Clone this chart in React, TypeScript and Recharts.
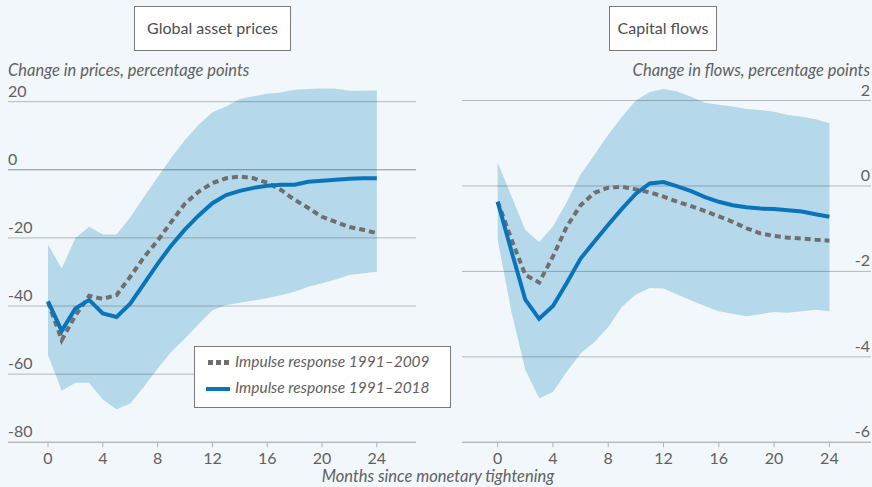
import React from 'react';
import { ComposedChart, Area, Line, XAxis, YAxis, ReferenceLine } from 'recharts';

// months since tightening
const months = [0, 1, 2, 3, 4, 5, 6, 7, 8, 9, 10, 11, 12, 13, 14, 15, 16, 17, 18, 19, 20, 21, 22, 23, 24];
const xTicks = [0, 4, 8, 12, 16, 20, 24];

// global asset prices, pp
const pricesLong = [-38.6, -47.3, -40.7, -38.2, -42.2, -43.2, -39.3, -33.5, -27.6, -22.2, -17.5, -13.4, -9.8, -7.4, -6.2, -5.3, -4.7, -4.4, -4.4, -3.5, -3.2, -2.9, -2.6, -2.5, -2.5];
const pricesShort = [-38.8, -50, -42.8, -37, -37.9, -36.8, -31.4, -25.7, -20.8, -15.3, -9.9, -6.4, -3.9, -2.5, -2, -2.5, -3.8, -5.9, -8.8, -11.2, -13.8, -15.3, -16.8, -17.6, -18.6];
const pricesHigh = [-22, -29, -20, -16.7, -19, -19, -14, -8, -2.2, 3.5, 8.8, 13.2, 16.9, 18.6, 20.8, 21.6, 22.3, 22.7, 23.5, 23.7, 23.9, 23.8, 23.2, 23.2, 23.3];
const pricesLow = [-54.4, -64.9, -62.5, -62.5, -67.4, -70.3, -68.6, -63.7, -58.3, -53.4, -49.5, -45.3, -41.2, -39.7, -39, -38.4, -37.7, -36.8, -35.8, -34.3, -33.3, -32.2, -30.9, -30.4, -29.9];
const priceTicks = [-80, -60, -40, -20, 0, 20];

// capital flows, pp
const flowsLong = [-0.37, -1.53, -2.66, -3.11, -2.81, -2.27, -1.7, -1.3, -0.91, -0.53, -0.18, 0.06, 0.09, -0.01, -0.12, -0.26, -0.37, -0.45, -0.5, -0.53, -0.54, -0.57, -0.6, -0.66, -0.72];
const flowsShort = [-0.37, -1.25, -2.08, -2.26, -1.65, -0.95, -0.45, -0.16, -0.04, -0.02, -0.08, -0.15, -0.25, -0.37, -0.47, -0.59, -0.71, -0.84, -0.99, -1.11, -1.17, -1.21, -1.23, -1.26, -1.28];
const flowsHigh = [0.55, -0.24, -1.03, -1.31, -0.95, -0.38, 0.27, 0.73, 1.2, 1.62, 2.0, 2.2, 2.27, 2.21, 2.09, 1.95, 1.9, 1.86, 1.8, 1.78, 1.74, 1.66, 1.62, 1.56, 1.47];
const flowsLow = [-1.26, -2.95, -4.3, -4.97, -4.82, -4.35, -3.92, -3.65, -3.3, -2.83, -2.54, -2.39, -2.4, -2.54, -2.68, -2.81, -2.93, -2.99, -3.05, -3.0, -2.95, -2.97, -2.93, -2.9, -2.93];
const flowTicks = [-6, -4, -2, 0, 2];

const FONT = 'Lato, "Open Sans", sans-serif';
const BG = '#f2f7fb';
const BAND = '#78b9dc';
const BLUE = '#0a74bb';
const GREY = '#6f6f6f';
const TEXT = '#616161';

const rows = (long: number[], short: number[], low: number[], high: number[]) =>
  months.map((m, i) => ({ month: m, long: long[i], short: short[i], band: [low[i], high[i]] }));

const XTick = ({ x, payload }: any) => (
  <text x={x} y={464} textAnchor="middle" fill={TEXT} fontSize={16} fontFamily={FONT}>{payload.value}</text>
);

// y tick label sitting just above its gridline
const GridLabel = ({ viewBox, side, text }: any) => {
  if (!viewBox) return null;
  const x = side === 'left' ? viewBox.x : viewBox.x + viewBox.width - 1;
  return (
    <text x={x} y={viewBox.y - 5} textAnchor={side === 'left' ? 'start' : 'end'} fill={TEXT} fontSize={16} fontFamily={FONT}>{text}</text>
  );
};

function Panel({ data, margin, xDomain, yDomain, yTicks, side, darkZero }: any) {
  return (
    <ComposedChart width={436} height={487} data={data} margin={margin}>
      <XAxis
        type="number"
        dataKey="month"
        domain={xDomain}
        ticks={xTicks}
        allowDataOverflow
        height={30}
        tickSize={5}
        tickLine={{ stroke: '#b3b3b3' }}
        axisLine={{ stroke: '#b3b3b3' }}
        tick={<XTick />}
      />
      <YAxis type="number" hide domain={yDomain} allowDataOverflow />
      <Area type="linear" dataKey="band" fill={BAND} fillOpacity={0.5} stroke="none" isAnimationActive={false} />
      {yTicks.map((t: number) => (
        <ReferenceLine
          key={t}
          y={t}
          stroke={darkZero && t === 0 ? '#4a4a4a' : '#3a3a3a'}
          strokeOpacity={darkZero && t === 0 ? 0.6 : 0.33}
          label={<GridLabel side={side} text={t} />}
        />
      ))}
      <Line type="linear" dataKey="short" stroke={GREY} strokeWidth={4} strokeDasharray="6 4" dot={false} activeDot={false} isAnimationActive={false} />
      <Line type="linear" dataKey="long" stroke={BLUE} strokeWidth={4} dot={false} activeDot={false} isAnimationActive={false} />
    </ComposedChart>
  );
}

export default function App() {
  const priceRows = rows(pricesLong, pricesShort, pricesLow, pricesHigh);
  const flowRows = rows(flowsLong, flowsShort, flowsLow, flowsHigh);
  return (
    <div style={{ position: 'absolute', left: 0, top: 0, width: 872, height: 487, background: BG, overflow: 'hidden' }}>
      <div style={{ position: 'absolute', left: 0, top: 0 }}>
        <Panel
          data={priceRows}
          margin={{ top: 67.6, right: 20, bottom: 14.7, left: 8 }}
          xDomain={[-2.92, 26.86]}
          yDomain={[-80, 30]}
          yTicks={priceTicks}
          side="left"
          darkZero
        />
      </div>
      <div style={{ position: 'absolute', left: 436, top: 0 }}>
        <Panel
          data={flowRows}
          margin={{ top: 57.8, right: 1, bottom: 14.7, left: 26 }}
          xDomain={[-2.58, 27.01]}
          yDomain={[-6, 3]}
          yTicks={flowTicks}
          side="right"
        />
      </div>
      <svg width={872} height={487} style={{ position: 'absolute', left: 0, top: 0, pointerEvents: 'none' }} fontFamily={FONT}>
        <rect x={134.5} y={6.5} width={156} height={44} fill="#fff" stroke="#7a7a7a" />
        <text x={212.5} y={34} textAnchor="middle" fontSize={16} fill="#4d4d4d">Global asset prices</text>
        <rect x={609.5} y={6.5} width={107} height={44} fill="#fff" stroke="#7a7a7a" />
        <text x={663} y={34} textAnchor="middle" fontSize={16} fill="#4d4d4d">Capital flows</text>

        <text x={8} y={76} fontSize={16.5} fontStyle="italic" fill={TEXT}>Change in prices, percentage points</text>
        <text x={870} y={76} textAnchor="end" fontSize={16.5} fontStyle="italic" fill={TEXT}>Change in flows, percentage points</text>
        <text x={438} y={482} textAnchor="middle" fontSize={16.5} fontStyle="italic" fill={TEXT}>Months since monetary tightening</text>

        <rect x={194.5} y={346.5} width={256} height={61} fill="#fff" stroke="#7a7a7a" />
        <rect x={208} y={360} width={5} height={5} fill={GREY} />
        <rect x={216} y={360} width={5} height={5} fill={GREY} />
        <rect x={224} y={360} width={5} height={5} fill={GREY} />
        <text x={235} y={367} fontSize={15.5} fontStyle="italic" fill={TEXT}>Impulse response 1991–2009</text>
        <line x1={206} x2={230} y1={389} y2={389} stroke={BLUE} strokeWidth={4} />
        <text x={235} y={393} fontSize={15.5} fontStyle="italic" fill={TEXT}>Impulse response 1991–2018</text>
      </svg>
    </div>
  );
}
